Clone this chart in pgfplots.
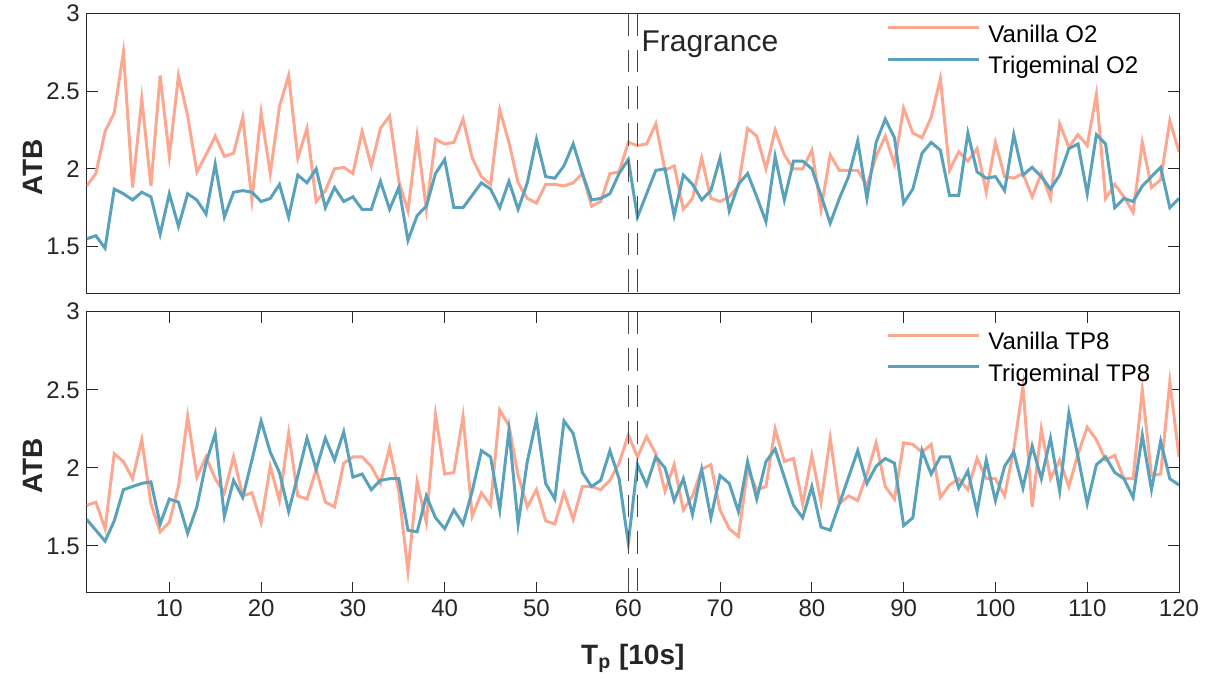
\documentclass[border=0pt]{standalone}
\usepackage{fontspec}
\setmainfont{Liberation Sans}
\usepackage{pgfplots}
\usepackage{pgfplotstable}
\pgfplotsset{compat=1.18}
\definecolor{vanilla}{RGB}{253,167,145}
\definecolor{trig}{RGB}{90,162,187}
\definecolor{axgray}{RGB}{38,38,38}
\definecolor{dashgray}{RGB}{70,70,70}

\pgfplotstableread{
x v t
1 1.89 1.55
2 1.97 1.57
3 2.24 1.49
4 2.36 1.87
5 2.75 1.84
6 1.88 1.80
7 2.45 1.85
8 1.89 1.82
9 2.60 1.58
10 2.08 1.84
11 2.60 1.63
12 2.34 1.84
13 1.98 1.80
14 2.09 1.71
15 2.21 2.03
16 2.08 1.69
17 2.10 1.85
18 2.33 1.86
19 1.80 1.85
20 2.36 1.79
21 1.97 1.81
22 2.40 1.90
23 2.60 1.69
24 2.07 1.96
25 2.26 1.91
26 1.79 2.00
27 1.86 1.75
28 2.00 1.88
29 2.01 1.79
30 1.97 1.82
31 2.24 1.74
32 2.02 1.74
33 2.26 1.92
34 2.34 1.74
35 1.92 1.88
36 1.73 1.54
37 2.21 1.70
38 1.74 1.76
39 2.19 1.97
40 2.16 2.06
41 2.17 1.75
42 2.32 1.75
43 2.07 1.83
44 1.95 1.91
45 1.90 1.87
46 2.38 1.75
47 2.17 1.92
48 1.91 1.74
49 1.81 1.91
50 1.78 2.19
51 1.90 1.95
52 1.90 1.94
53 1.89 2.02
54 1.91 2.16
55 1.97 1.97
56 1.76 1.80
57 1.79 1.81
58 1.97 1.84
59 1.98 1.97
60 2.17 2.06
61 2.15 1.69
62 2.16 1.84
63 2.29 1.99
64 1.99 2.00
65 2.02 1.70
66 1.74 1.96
67 1.81 1.90
68 2.07 1.80
69 1.81 1.86
70 1.79 2.07
71 1.82 1.73
72 1.89 1.90
73 2.26 1.97
74 2.21 1.82
75 2.00 1.66
76 2.25 2.08
77 2.09 1.80
78 2.00 2.05
79 2.00 2.05
80 2.12 2.00
81 1.74 1.83
82 2.09 1.65
83 1.99 1.81
84 1.99 1.95
85 1.99 2.18
86 1.89 1.81
87 2.08 2.17
88 2.21 2.32
89 2.03 2.20
90 2.39 1.78
91 2.23 1.87
92 2.20 2.10
93 2.33 2.17
94 2.58 2.12
95 1.99 1.83
96 2.11 1.83
97 2.05 2.23
98 2.13 1.98
99 1.85 1.94
100 2.17 1.95
101 1.95 1.86
102 1.94 2.22
103 1.97 1.96
104 1.82 2.01
105 1.97 1.95
106 1.81 1.87
107 2.29 1.96
108 2.14 2.13
109 2.22 2.16
110 2.15 1.84
111 2.48 2.22
112 1.81 2.16
113 1.90 1.75
114 1.82 1.81
115 1.72 1.79
116 2.17 1.89
117 1.88 1.95
118 1.93 2.01
119 2.31 1.75
120 2.11 1.81
}\topdata

\pgfplotstableread{
x v t
1 1.76 1.67
2 1.78 1.60
3 1.61 1.53
4 2.09 1.66
5 2.04 1.86
6 1.93 1.88
7 2.18 1.90
8 1.77 1.91
9 1.59 1.64
10 1.65 1.80
11 1.88 1.78
12 2.33 1.58
13 1.94 1.75
14 2.07 2.03
15 1.93 2.22
16 1.84 1.69
17 2.07 1.92
18 1.82 1.81
19 1.84 2.05
20 1.65 2.30
21 2.01 2.10
22 1.79 1.97
23 2.22 1.72
24 1.82 1.95
25 1.80 2.19
26 1.99 1.99
27 1.78 2.19
28 1.75 2.05
29 2.03 2.23
30 2.07 1.94
31 2.07 1.96
32 2.01 1.86
33 1.90 1.92
34 2.13 1.93
35 1.85 1.93
36 1.34 1.60
37 1.91 1.59
38 1.65 1.82
39 2.34 1.68
40 1.96 1.61
41 1.97 1.73
42 2.33 1.64
43 1.69 1.85
44 1.84 2.11
45 1.76 2.07
46 2.37 1.73
47 2.27 2.24
48 1.95 1.64
49 1.75 2.04
50 1.86 2.31
51 1.66 1.90
52 1.64 1.80
53 1.84 2.30
54 1.67 2.22
55 1.88 1.97
56 1.88 1.88
57 1.86 1.92
58 1.92 2.11
59 2.03 1.93
60 2.21 1.52
61 2.07 2.02
62 2.20 1.89
63 2.09 2.07
64 1.85 2.00
65 2.02 1.79
66 1.73 1.93
67 1.82 1.70
68 1.99 1.99
69 2.02 1.68
70 1.73 1.95
71 1.61 1.90
72 1.56 1.72
73 1.99 2.04
74 1.86 1.80
75 1.88 2.04
76 2.25 2.12
77 2.04 1.94
78 2.06 1.76
79 1.77 1.68
80 2.08 1.88
81 1.78 1.62
82 2.19 1.60
83 1.77 1.77
84 1.82 1.94
85 1.79 2.11
86 1.96 1.90
87 2.16 2.01
88 1.88 2.06
89 1.80 2.03
90 2.16 1.63
91 2.15 1.68
92 2.10 2.11
93 2.15 1.96
94 1.81 2.07
95 1.89 2.07
96 1.93 1.87
97 1.86 1.98
98 2.06 1.72
99 1.93 2.05
100 1.93 1.79
101 1.82 2.01
102 2.12 2.10
103 2.52 1.87
104 1.75 2.14
105 2.25 1.93
106 1.93 2.19
107 2.05 1.85
108 1.88 2.35
109 2.09 2.07
110 2.26 1.77
111 2.18 2.02
112 2.05 2.07
113 2.08 1.97
114 1.93 1.93
115 1.93 1.81
116 2.50 2.21
117 1.95 1.86
118 1.96 2.17
119 2.55 1.93
120 2.07 1.89
}\botdata

\begin{document}
\begin{tikzpicture}
\useasboundingbox (0,0) rectangle (604pt,342pt);
\pgfplotsset{
  myax/.style={
    scale only axis,
    width=546.15pt,
    xmin=1, xmax=120, ymin=1.2, ymax=3,
    ytick={1.5,2,2.5,3},
    tick align=inside,
    major tick length=5.5pt,
    axis line style={draw=axgray, line width=0.5pt},
    every tick/.style={draw=axgray, line width=0.5pt},
    tick label style={font=\fontsize{12}{14}\selectfont, text=axgray},
    /pgf/number format/assume math mode=true,
    ylabel={\textbf{ATB}},
    ylabel style={font=\fontsize{14}{16}\selectfont, text=axgray, at={(axis description cs:-0.0491,0.45)}, anchor=center},
    legend cell align=left,
    legend style={draw=none, fill=none, inner sep=0pt, row sep=3.9pt,
      font=\fontsize{12}{14}\selectfont,
      nodes={inner sep=0pt, text height=9pt, text depth=3pt, text=black}},
    legend image code/.code={\draw[#1] (0pt,4.3pt) -- (45.5pt,4.3pt); \path (49.5pt,0pt);},
  }
}
% top axis
\begin{axis}[myax,
  at={(43.35pt,195.35pt)}, anchor=south west,
  height=140pt,
  xtick=\empty,
  legend style={at={(0.7318,0.963)}, anchor=north west},
]
\addplot[vanilla, line width=1.5pt] table[x=x, y=v] {\topdata};
\addlegendentry{Vanilla O2}
\addplot[trig, line width=1.5pt] table[x=x, y=t] {\topdata};
\addlegendentry{Trigeminal O2}
\addplot[forget plot, dashgray, line width=0.5pt, dash pattern=on 11.3pt off 7pt] coordinates {(60,3) (60,1.2)};
\addplot[forget plot, dashgray, line width=0.5pt, dash pattern=on 11.3pt off 7pt] coordinates {(61,3) (61,1.2)};
\node[anchor=base west, inner sep=0pt, text=axgray, font=\fontsize{15}{17}\selectfont] at (axis cs:61.4,2.755) {Fragrance};
\end{axis}
% bottom axis
\begin{axis}[myax,
  at={(43.35pt,45.65pt)}, anchor=south west,
  height=140.5pt,
  xtick={10,20,...,120},
  xlabel={\textbf{T\textsubscript{p} [10s]}},
  xlabel style={font=\fontsize{14}{16}\selectfont, text=axgray, at={(axis description cs:0.5,0)}, yshift=-35.7pt, anchor=base},
  legend style={at={(0.7318,0.930)}, anchor=north west},
]
\addplot[vanilla, line width=1.5pt] table[x=x, y=v] {\botdata};
\addlegendentry{Vanilla TP8}
\addplot[trig, line width=1.5pt] table[x=x, y=t] {\botdata};
\addlegendentry{Trigeminal TP8}
\addplot[forget plot, dashgray, line width=0.5pt, dash pattern=on 11.3pt off 7pt] coordinates {(60,3) (60,1.2)};
\addplot[forget plot, dashgray, line width=0.5pt, dash pattern=on 11.3pt off 7pt] coordinates {(61,3) (61,1.2)};
\end{axis}
\end{tikzpicture}
\end{document}
